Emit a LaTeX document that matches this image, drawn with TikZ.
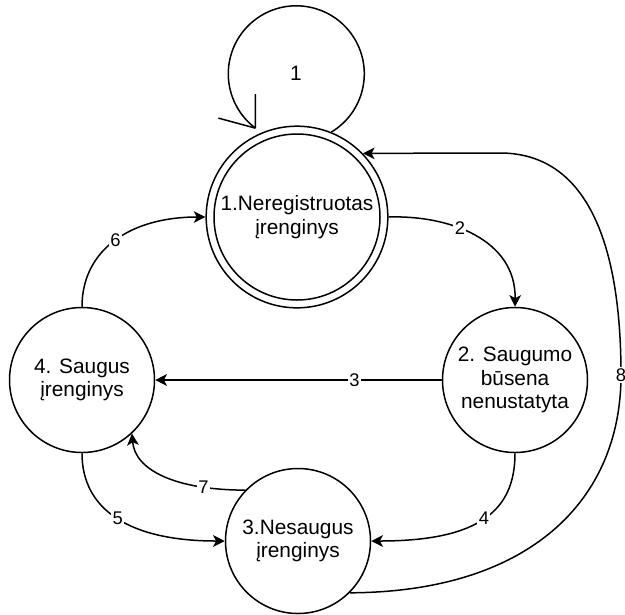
\documentclass[tikz,border=0pt]{standalone}
\usepackage{fontspec}
\setmainfont{Liberation Sans}
\usetikzlibrary{arrows.meta}
\begin{document}
\begin{tikzpicture}[x=0.6pt,y=-0.6pt,line width=0.9pt,
  state/.style={circle,draw,minimum size=87pt,inner sep=0pt,align=center,
    font=\fontsize{12.5}{14.2}\selectfont},
  edge/.style={-{Stealth[length=7pt,width=7pt,inset=1.8pt]}},
  lbl/.style={fill=white,inner sep=0.8pt,font=\fontsize{11}{13}\selectfont}]
\useasboundingbox (0,0) rectangle (625,614);

% states
\node[state,minimum size=109pt] (n1) at (297,217) {1.Neregistruotas\\įrenginys};
\draw (n1.center) circle[radius=49.8pt];
\node[state] (n2) at (515,380) {2. Saugumo\\būsena\\nenustatyta};
\node[state] (n3) at (298,541) {3.Nesaugus\\įrenginys};
\node[state] (n4) at (82,380) {4. Saugus\\įrenginys};

% self loop on state 1 with an open barb
\draw (n1.68) arc[start angle=-59,end angle=233,radius=40.8pt] coordinate (lt);
\draw (lt) -- ++(0,-34) (lt) -- ++(-37,-10);
\node[font=\fontsize{12.5}{14.2}\selectfont] (l1) at (296,73) {1};

% transitions
\draw[edge] (n1.east) .. controls (450,215) and (516,240) .. node[lbl,pos=0.4]{2} (n2.north);
\draw[edge] (n2.west) -- node[lbl,pos=0.305]{3} (n4.east);
\draw[edge] (n2.south) .. controls (515,510) and (480,541) .. node[lbl]{4} (n3.east);
\draw[edge] (n4.south) .. controls (82,510) and (130,541) .. node[lbl]{5} (n3.west);
\draw[edge] (n4.north) .. controls (82,250) and (130,217) .. node[lbl]{6} (n1.west);
\draw[edge] (n3.136) .. controls (175,490) and (135,470) .. node[lbl,pos=0.22]{7} (n4.-47);
\draw[edge] (n3.-45) .. controls (530,592) and (621,500) .. (621,375) node[lbl]{8}
  .. controls (621,230) and (580,153) .. (500,153) -- (n1.44);
\end{tikzpicture}
\end{document}
